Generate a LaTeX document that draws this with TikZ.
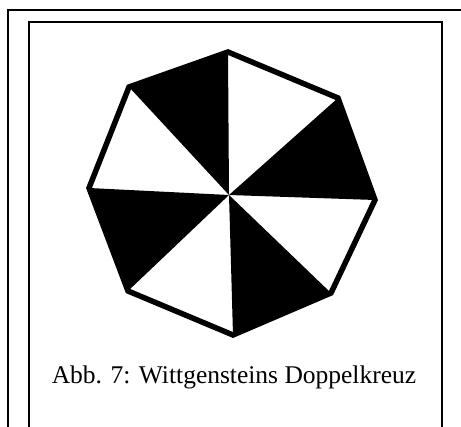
\documentclass[tikz,border=0pt]{standalone}
\usepackage{fontspec}
\setmainfont{Liberation Serif}
\begin{document}
\begin{tikzpicture}[x=1pt,y=-1pt,
  framestyle/.style={draw=black,line width=2pt},
  sector/.style={fill=black},
  outline/.style={draw=black,line width=5.5pt,line join=miter}]
\useasboundingbox (0,0) rectangle (461,427);
\clip (0,0) rectangle (461,427);
\fill[white] (0,0) rectangle (461,427);
% frames
\draw[framestyle] (8,10) rectangle (475,440);
\draw[framestyle,line width=1.8pt] (29,22) rectangle (442,440);
% octagon vertices
\coordinate (C) at (229,195);
\coordinate (T) at (228,52);
\coordinate (UR) at (338,98);
\coordinate (R) at (375,200);
\coordinate (LR) at (331,293);
\coordinate (B) at (233,335);
\coordinate (LL) at (128,291);
\coordinate (L) at (89,188);
\coordinate (UL) at (129,87);
% black sectors
\fill[sector] (C) -- (UR) -- (R) -- cycle;
\fill[sector] (C) -- (LR) -- (B) -- cycle;
\fill[sector] (C) -- (LL) -- (L) -- cycle;
\fill[sector] (C) -- (UL) -- (T) -- cycle;
% outline
\draw[outline] (T) -- (UR) -- (R) -- (LR) -- (B) -- (LL) -- (L) -- (UL) -- cycle;
% caption
\node[anchor=base,font=\fontsize{25.5}{30}\selectfont,inner sep=0pt] (cap) at (234,384) {Abb. 7: Wittgensteins Doppelkreuz};
\end{tikzpicture}
\end{document}
